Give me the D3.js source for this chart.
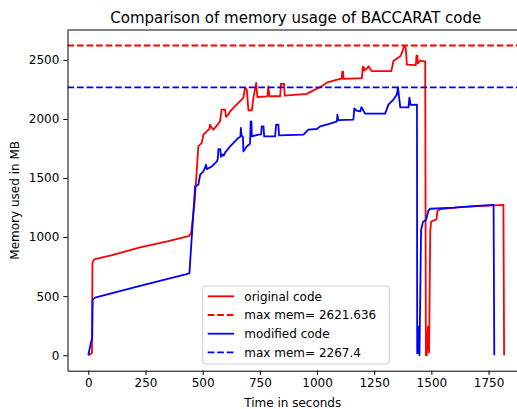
<!DOCTYPE html>
<html>
<head>
<meta charset="utf-8">
<script src="https://cdn.jsdelivr.net/npm/d3@7"></script>
<style>
  body { margin: 0; background: #fff; }
  svg { font-family: "DejaVu Sans", sans-serif; }
</style>
</head>
<body>
<svg id="chart" width="517" height="409"></svg>
<script>
// memory usage readings (time in s, memory in MB)
var origTime = [0, 10, 16, 18, 22, 29, 100, 226, 350, 442, 450, 465, 481, 496, 503, 518, 529, 532, 540, 547, 559, 576, 583, 598, 602, 612, 620, 634, 656, 678, 685, 693, 700, 715, 722, 734, 739, 783, 787, 792, 839, 842, 856, 859, 955, 984, 1013, 1030, 1045, 1101, 1108, 1110, 1114, 1116, 1196, 1200, 1204, 1207, 1220, 1225, 1232, 1240, 1325, 1334, 1364, 1371, 1382, 1388, 1393, 1432, 1435, 1439, 1441, 1451, 1470, 1473, 1476, 1480, 1485, 1490, 1495, 1499, 1522, 1527, 1540, 1626, 1728, 1815, 1818];
var origMem  = [0, 10, 20, 780, 800, 813, 845, 912, 965, 1011, 1040, 1300, 1768, 1797, 1867, 1895, 1915, 1952, 1924, 1909, 1937, 1980, 2079, 2079, 2017, 2036, 2064, 2093, 2136, 2178, 2263, 2248, 2073, 2073, 2178, 2305, 2186, 2192, 2276, 2192, 2192, 2297, 2297, 2197, 2212, 2242, 2268, 2290, 2310, 2340, 2340, 2400, 2400, 2340, 2345, 2440, 2440, 2410, 2430, 2446, 2424, 2405, 2405, 2490, 2530, 2559, 2621.636, 2600, 2460, 2455, 2536, 2536, 2470, 2494, 2488, 2488, 0, 0, 242, 22, 1050, 1132, 1150, 1225, 1237, 1254, 1265, 1273, 0];

var modTime = [0, 12, 17, 19, 29, 226, 430, 442, 467, 481, 489, 503, 510, 515, 518, 540, 562, 566, 569, 577, 580, 588, 592, 600, 620, 656, 665, 667, 670, 676, 678, 693, 707, 710, 713, 715, 744, 756, 758, 766, 769, 817, 821, 831, 834, 941, 962, 999, 1014, 1057, 1087, 1089, 1093, 1159, 1163, 1172, 1189, 1194, 1200, 1210, 1298, 1312, 1334, 1349, 1354, 1358, 1364, 1400, 1404, 1409, 1437, 1438, 1441, 1444, 1448, 1455, 1463, 1477, 1487, 1495, 1600, 1700, 1772, 1775];
var modMem  = [0, 115, 140, 469, 488, 587, 686, 695, 1429, 1443, 1528, 1556, 1585, 1613, 1575, 1598, 1641, 1660, 1745, 1745, 1680, 1700, 1690, 1720, 1768, 1839, 1850, 1924, 1860, 1850, 1725, 1768, 1790, 1980, 1980, 1853, 1867, 1870, 1937, 1937, 1853, 1853, 1952, 1952, 1861, 1867, 1909, 1915, 1937, 1960, 1980, 2036, 1990, 1994, 2090, 2070, 2064, 2100, 2080, 2045, 2045, 2121, 2164, 2206, 2267.4, 2200, 2098, 2098, 2180, 2120, 2121, 17, 17, 242, 0, 1062, 1127, 1147, 1225, 1240, 1250, 1265, 1273, 0];

var maxOrig = 2621.636, maxMod = 2267.4;
var xTicks = [0, 250, 500, 750, 1000, 1250, 1500, 1750];
var yTicks = [0, 500, 1000, 1500, 2000, 2500];
var legendLabels = ["original code", "max mem= 2621.636", "modified code", "max mem= 2267.4"];

var svg = d3.select("#chart"),
    margin = { top: 30, left: 67.5, bottom: 370.7, right: 524 };

var x = d3.scaleLinear().domain([-91, 1905]).range([margin.left, margin.right]);
var y = d3.scaleLinear().domain([-131, 2753]).range([margin.bottom, margin.top]);

svg.append("clipPath").attr("id", "clip")
    .append("rect")
    .attr("x", margin.left).attr("y", margin.top)
    .attr("width", margin.right - margin.left).attr("height", margin.bottom - margin.top);

var plot = svg.append("g").attr("clip-path", "url(#clip)");

var line = d3.line().x(d => x(d[0])).y(d => y(d[1]));
var orig = origTime.map((t, i) => [t, origMem[i]]);
var mod = modTime.map((t, i) => [t, modMem[i]]);

var lw = 1.8, dash = "6.66,2.88";

plot.append("path").datum(orig)
    .attr("d", line).attr("fill", "none").attr("stroke", "#ff0000")
    .attr("stroke-width", lw).attr("stroke-linejoin", "round");
plot.append("line")
    .attr("x1", margin.left).attr("x2", margin.right)
    .attr("y1", y(maxOrig)).attr("y2", y(maxOrig))
    .attr("stroke", "#ff0000").attr("stroke-width", lw).attr("stroke-dasharray", dash);
plot.append("path").datum(mod)
    .attr("d", line).attr("fill", "none").attr("stroke", "#0000ff")
    .attr("stroke-width", lw).attr("stroke-linejoin", "round");
plot.append("line")
    .attr("x1", margin.left).attr("x2", margin.right)
    .attr("y1", y(maxMod)).attr("y2", y(maxMod))
    .attr("stroke", "#0000ff").attr("stroke-width", lw).attr("stroke-dasharray", dash);

// axes
var xAxis = svg.append("g")
    .attr("transform", `translate(0,${margin.bottom})`)
    .call(d3.axisBottom(x).tickValues(xTicks).tickFormat(d3.format("d")).tickSize(4.2).tickPadding(4).tickSizeOuter(0));
var yAxis = svg.append("g")
    .attr("transform", `translate(${margin.left},0)`)
    .call(d3.axisLeft(y).tickValues(yTicks).tickFormat(d3.format("d")).tickSize(4.2).tickPadding(4).tickSizeOuter(0));
[xAxis, yAxis].forEach(a => {
    a.selectAll("text").attr("font-size", 12).attr("fill", "#000").attr("font-family", "DejaVu Sans");
    a.selectAll("line").attr("stroke", "#000");
    a.select(".domain").attr("stroke", "#000");
});
// top spine
svg.append("line")
    .attr("x1", margin.left).attr("x2", margin.right)
    .attr("y1", margin.top).attr("y2", margin.top)
    .attr("stroke", "#000");

svg.append("text")
    .attr("x", (margin.left + margin.right) / 2).attr("y", 23)
    .attr("text-anchor", "middle").attr("font-size", 15).attr("fill", "#000")
    .text("Comparison of memory usage of BACCARAT code");
svg.append("text")
    .attr("x", (margin.left + margin.right) / 2 - 3).attr("y", 407)
    .attr("text-anchor", "middle").attr("font-size", 12).attr("fill", "#000")
    .text("Time in seconds");
svg.append("text")
    .attr("transform", `translate(19,${(margin.top + margin.bottom) / 2}) rotate(-90)`)
    .attr("text-anchor", "middle").attr("font-size", 12).attr("fill", "#000")
    .text("Memory used in MB");

// legend
var legend = svg.append("g");
legend.append("rect")
    .attr("x", 202.7).attr("y", 286).attr("width", 186.6).attr("height", 78)
    .attr("rx", 2.5).attr("fill", "#fff").attr("fill-opacity", 0.8)
    .attr("stroke", "#cccccc").attr("stroke-width", 1);
var legendColors = ["#ff0000", "#ff0000", "#0000ff", "#0000ff"];
legendLabels.forEach((label, i) => {
    var ly = 296.3 + i * 18.7;
    legend.append("line")
        .attr("x1", 207.7).attr("x2", 234).attr("y1", ly).attr("y2", ly)
        .attr("stroke", legendColors[i]).attr("stroke-width", lw)
        .attr("stroke-dasharray", i % 2 ? dash : null);
    legend.append("text")
        .attr("x", 244.3).attr("y", ly + 4.3)
        .attr("font-size", 12).attr("fill", "#000")
        .text(label);
});
</script>
</body>
</html>
